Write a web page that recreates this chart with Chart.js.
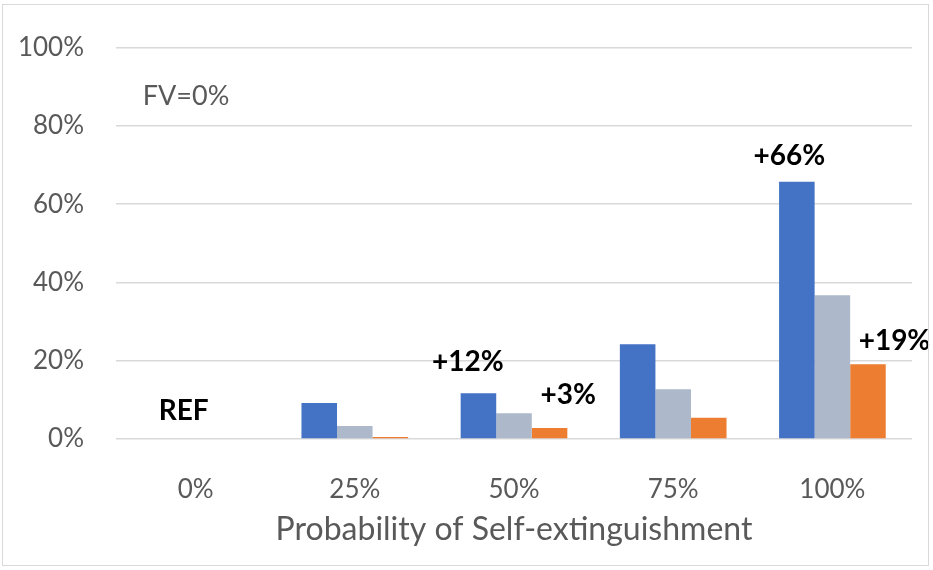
<!DOCTYPE html>
<html>
<head>
<meta charset="utf-8">
<script src="https://cdn.jsdelivr.net/npm/chart.js@4/dist/chart.umd.min.js"></script>
<style>
  html, body { margin: 0; padding: 0; background: #fff; }
  #wrap { position: relative; width: 933px; height: 570px; }
  #frame { position: absolute; left: 2px; top: 4px; width: 927px; height: 562px; border: 1px solid #d9d9d9; box-sizing: border-box; pointer-events: none; }
</style>
</head>
<body>
<div id="wrap">
  <canvas id="chart" width="933" height="570"></canvas>
  <div id="frame"></div>
</div>
<script>
const categories = ['0%', '25%', '50%', '75%', '100%'];
const blueValues = [0, 9.2, 11.7, 24.2, 65.7];
const greyValues = [0, 3.3, 6.6, 12.7, 36.7];
const orangeValues = [0, 0.5, 2.8, 5.4, 19.1];
const yTicks = [0, 20, 40, 60, 80, 100];

// text notes placed in data units (x = category index, y = percent)
const noteText = ['REF', '+12%', '+3%', '+66%', '+19%'];
const noteX = [-0.075, 1.71, 2.34, 3.73, 4.39];
const noteY = [7.1, 19.6, 11.3, 72.3, 25.0];
const fvText = 'FV=0%';

const font = 'Lato, "Open Sans", sans-serif';

const notesPlugin = {
    id: 'notes',
    afterDatasetsDraw(chart) {
        const ctx = chart.ctx;
        const xs = chart.scales.x;
        const ys = chart.scales.y;
        ctx.save();
        ctx.textAlign = 'center';
        ctx.textBaseline = 'middle';
        ctx.fillStyle = '#000';
        ctx.font = 'bold 28px ' + font;
        for (let i = 0; i < noteText.length; i++) {
            ctx.fillText(noteText[i], xs.getPixelForValue(noteX[i]), ys.getPixelForValue(noteY[i]));
        }
        ctx.font = '27px ' + font;
        ctx.fillStyle = '#595959';
        ctx.fillText(fvText, xs.getPixelForValue(-0.06), ys.getPixelForValue(87.5));
        ctx.restore();
    }
};

const chart = new Chart(document.getElementById('chart'), {
    type: 'bar',
    data: {
        labels: categories,
        datasets: [
            { label: 'Series 1', data: blueValues, backgroundColor: '#4472C4' },
            { label: 'Series 2', data: greyValues, backgroundColor: '#ADB9CA' },
            { label: 'Series 3', data: orangeValues, backgroundColor: '#ED7D31' }
        ]
    },
    options: {
        responsive: false,
        animation: false,
        datasets: { bar: { categoryPercentage: 0.67, barPercentage: 1.0 } },
        layout: { padding: { left: 0, right: 21, top: 47, bottom: 0 } },
        plugins: {
            legend: { display: false },
            tooltip: { enabled: false }
        },
        scales: {
            x: {
                grid: { display: false },
                border: { display: false },
                ticks: {
                    color: '#595959',
                    font: { family: font, size: 26 },
                    padding: 27
                },
                title: {
                    display: true,
                    text: 'Probability of Self-extinguishment',
                    color: '#595959',
                    font: { family: font, size: 32 },
                    padding: { top: 0, bottom: 21 }
                },
                afterFit(scale) { scale.height = 131; }
            },
            y: {
                min: 0,
                max: 100,
                afterBuildTicks(scale) { scale.ticks = yTicks.map(v => ({ value: v })); },
                grid: { color: '#d9d9d9', lineWidth: 1.5, drawTicks: false },
                border: { display: false },
                ticks: {
                    color: '#595959',
                    font: { family: font, size: 26 },
                    padding: 32,
                    callback: v => v + '%'
                },
                afterFit(scale) { scale.width = 116; }
            }
        }
    },
    plugins: [notesPlugin]
});
</script>
</body>
</html>
